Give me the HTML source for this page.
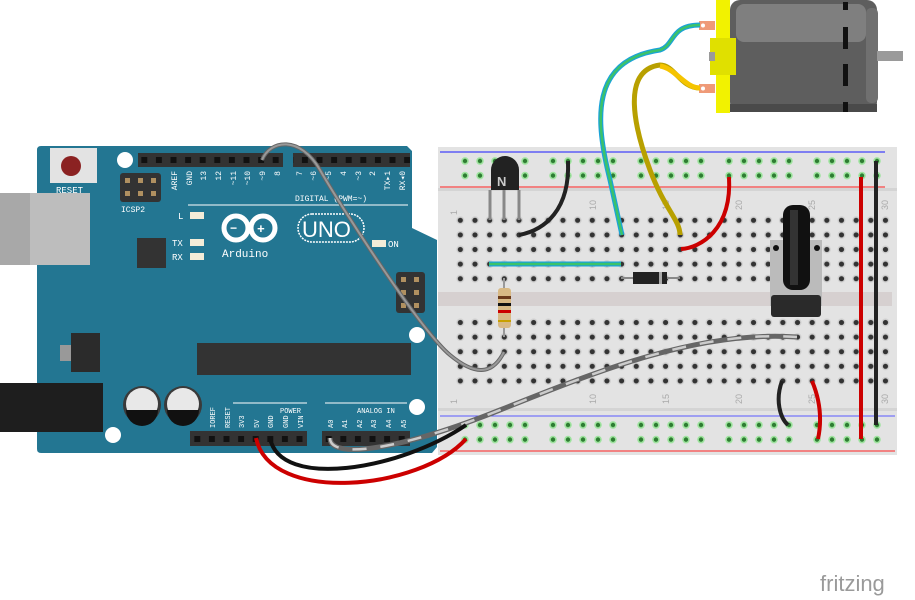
<!DOCTYPE html>
<html><head><meta charset="utf-8"><style>
html,body{margin:0;padding:0;background:#fff;width:915px;height:600px;overflow:hidden}
svg{display:block}
text{font-family:"Liberation Mono",monospace}
text.s, .s text{font-family:"Liberation Sans",sans-serif}
</style></head><body>
<svg width="915" height="600" viewBox="0 0 915 600" xmlns="http://www.w3.org/2000/svg">
<defs>
<pattern id="holes" x="453" y="213" width="14.66" height="14.6" patternUnits="userSpaceOnUse">
<circle cx="7.33" cy="7.3" r="4" fill="#cfcfcf"/><circle cx="7.33" cy="7.3" r="2.6" fill="#333"/>
</pattern>
<pattern id="rail" x="458" y="154" width="88" height="14.6" patternUnits="userSpaceOnUse">
<g fill="#2e7d32" stroke="#9ee39e" stroke-width="1.6">
<circle cx="7" cy="7" r="3"/><circle cx="22" cy="7" r="3"/><circle cx="37" cy="7" r="3"/><circle cx="52" cy="7" r="3"/><circle cx="67" cy="7" r="3"/></g>
</pattern>
<pattern id="rail2" x="458" y="418" width="88" height="14.6" patternUnits="userSpaceOnUse">
<g fill="#2e7d32" stroke="#9ee39e" stroke-width="1.6">
<circle cx="7" cy="7" r="3"/><circle cx="22" cy="7" r="3"/><circle cx="37" cy="7" r="3"/><circle cx="52" cy="7" r="3"/><circle cx="67" cy="7" r="3"/></g>
</pattern>
<pattern id="pins" x="137" y="153" width="14.6" height="14" patternUnits="userSpaceOnUse">
<rect x="4.3" y="4" width="6" height="6" fill="#111"/>
</pattern>
<pattern id="pins2" x="190" y="432" width="14.6" height="14" patternUnits="userSpaceOnUse">
<rect x="4.3" y="4" width="6" height="6" fill="#111"/>
</pattern>
</defs>

<!-- Motor -->
<rect x="730" y="0" width="147" height="112" rx="10" fill="#5e5e5e"/>
<rect x="736" y="4" width="130" height="38" rx="8" fill="#7f7f7f"/>
<rect x="866" y="8" width="12" height="95" rx="5" fill="#707070"/>
<rect x="877" y="51" width="26" height="10" fill="#9a9a9a"/>
<rect x="730" y="104" width="147" height="8" fill="#4a4a4a"/>
<g fill="#111"><rect x="843" y="2" width="5" height="8"/><rect x="843" y="27" width="5" height="22"/><rect x="843" y="64" width="5" height="22"/><rect x="843" y="102" width="5" height="10"/></g>
<rect x="716" y="0" width="14" height="113" fill="#f2f200"/>
<rect x="710" y="38" width="26" height="37" fill="#e0e000"/>
<rect x="709" y="52" width="6" height="9" fill="#9a9a9a"/>
<rect x="699" y="21" width="16" height="9" fill="#ef9a78"/><circle cx="703" cy="25.5" r="2" fill="#fff"/>
<rect x="699" y="84" width="16" height="9" fill="#ef9a78"/><circle cx="703" cy="88.5" r="2" fill="#fff"/>

<!-- Breadboard -->
<rect x="438" y="147" width="459" height="308" fill="#e3e3e3"/>
<rect x="438" y="188" width="459" height="3" fill="#d4d4d4"/>
<line x1="440" y1="152" x2="885" y2="152" stroke="#1a1aff" stroke-width="1"/>
<line x1="440" y1="187" x2="885" y2="187" stroke="#ff2020" stroke-width="1"/>
<rect x="438" y="292" width="454" height="14" fill="#d6d0d0"/>
<rect x="438" y="408" width="459" height="3" fill="#d4d4d4"/>
<line x1="440" y1="416" x2="895" y2="416" stroke="#5a5aff" stroke-width="1"/>
<line x1="440" y1="451" x2="895" y2="451" stroke="#ff2020" stroke-width="1"/>
<rect x="453" y="213" width="440" height="73" fill="url(#holes)"/>
<rect x="453" y="316" width="440" height="73" fill="url(#holes)"/>
<rect x="458" y="154" width="428" height="30" fill="url(#rail)"/>
<rect x="458" y="418" width="428" height="30" fill="url(#rail2)"/>
<g font-size="9" fill="#aaa" class="s">
<text x="457" y="215" transform="rotate(-90 457 215)">1</text>
<text x="596" y="210" transform="rotate(-90 596 210)">10</text>
<text x="669" y="210" transform="rotate(-90 669 210)">15</text>
<text x="742" y="210" transform="rotate(-90 742 210)">20</text>
<text x="815" y="210" transform="rotate(-90 815 210)">25</text>
<text x="888" y="210" transform="rotate(-90 888 210)">30</text>
<text x="457" y="404" transform="rotate(-90 457 404)">1</text>
<text x="596" y="404" transform="rotate(-90 596 404)">10</text>
<text x="669" y="404" transform="rotate(-90 669 404)">15</text>
<text x="742" y="404" transform="rotate(-90 742 404)">20</text>
<text x="815" y="404" transform="rotate(-90 815 404)">25</text>
<text x="888" y="404" transform="rotate(-90 888 404)">30</text>
</g>

<!-- Arduino -->
<path d="M37,150 Q37,146 41,146 L407,146 L412,151 L412,228 L437,240 L437,447 L432,453 L41,453 Q37,453 37,449 Z" fill="#237692"/>
<rect x="0" y="193" width="90" height="72" fill="#bdbdbd"/><rect x="0" y="193" width="30" height="72" fill="#a8a8a8"/>
<rect x="50" y="148" width="47" height="35" fill="#e3e3e3"/><circle cx="71" cy="166" r="10" fill="#8b2222"/>
<text x="56" y="193" font-size="9" fill="#fff">RESET</text>
<circle cx="125" cy="160" r="8" fill="#fff"/><circle cx="417" cy="335" r="8" fill="#fff"/><circle cx="417" cy="407" r="8" fill="#fff"/><circle cx="113" cy="435" r="8" fill="#fff"/>
<rect x="138" y="153" width="145" height="14" fill="#333"/><rect x="293" y="153" width="117" height="14" fill="#333"/>
<rect x="138" y="153" width="145" height="14" fill="url(#pins)"/><rect x="293" y="153" width="117" height="14" fill="url(#pins)"/>
<rect x="120" y="173" width="41" height="29" rx="3" fill="#333"/>
<g fill="#b09060"><rect x="125" y="178" width="5" height="5"/><rect x="138" y="178" width="5" height="5"/><rect x="151" y="178" width="5" height="5"/><rect x="125" y="191" width="5" height="5"/><rect x="138" y="191" width="5" height="5"/><rect x="151" y="191" width="5" height="5"/></g>
<text x="121" y="212" font-size="8" fill="#fff">ICSP2</text>
<g font-size="8" fill="#fff" text-anchor="end">
<text transform="translate(177,171) rotate(-90)">AREF</text>
<text transform="translate(192,171) rotate(-90)">GND</text>
<text transform="translate(206,171) rotate(-90)">13</text>
<text transform="translate(221,171) rotate(-90)">12</text>
<text transform="translate(236,171) rotate(-90)">~11</text>
<text transform="translate(250,171) rotate(-90)">~10</text>
<text transform="translate(265,171) rotate(-90)">~9</text>
<text transform="translate(280,171) rotate(-90)">8</text>
<text transform="translate(302,171) rotate(-90)">7</text>
<text transform="translate(316,171) rotate(-90)">~6</text>
<text transform="translate(331,171) rotate(-90)">~5</text>
<text transform="translate(346,171) rotate(-90)">4</text>
<text transform="translate(361,171) rotate(-90)">~3</text>
<text transform="translate(375,171) rotate(-90)">2</text>
<text transform="translate(390,171) rotate(-90)">TX▸1</text>
<text transform="translate(405,171) rotate(-90)">RX◂0</text>
</g>
<line x1="188" y1="205" x2="408" y2="205" stroke="#fff"/>
<text x="295" y="201" font-size="8" fill="#fff">DIGITAL (PWM=~)</text>
<rect x="137" y="238" width="29" height="30" fill="#333"/>
<g fill="#f3ecd8"><rect x="190" y="212" width="14" height="7"/><rect x="190" y="239" width="14" height="7"/><rect x="190" y="253" width="14" height="7"/><rect x="372" y="240" width="14" height="7"/></g>
<g font-size="9" fill="#fff"><text x="178" y="219">L</text><text x="172" y="246">TX</text><text x="172" y="260">RX</text><text x="388" y="247">ON</text></g>
<circle cx="236" cy="228" r="12" fill="none" stroke="#fff" stroke-width="5"/><circle cx="263" cy="228" r="12" fill="none" stroke="#fff" stroke-width="5"/>
<text x="230" y="232" font-size="12" fill="#fff" font-weight="bold">−</text><text x="257" y="233" font-size="13" fill="#fff" font-weight="bold">+</text>
<rect x="298" y="214" width="66" height="28" rx="14" fill="none" stroke="#fff" stroke-width="1.5" stroke-dasharray="2 1"/>
<text x="302" y="237" font-size="22" fill="#fff" class="s">UNO</text>
<text x="222" y="257" font-size="11" fill="#fff">Arduino</text>
<rect x="396" y="272" width="29" height="41" rx="3" fill="#333"/>
<g fill="#b09060"><rect x="401" y="277" width="5" height="5"/><rect x="414" y="277" width="5" height="5"/><rect x="401" y="290" width="5" height="5"/><rect x="414" y="290" width="5" height="5"/><rect x="401" y="303" width="5" height="5"/><rect x="414" y="303" width="5" height="5"/></g>
<rect x="197" y="343" width="214" height="32" fill="#333"/>
<rect x="71" y="333" width="29" height="39" fill="#2b2b2b"/><rect x="60" y="345" width="11" height="16" fill="#999"/>
<rect x="0" y="383" width="103" height="49" fill="#1e1e1e"/>
<circle cx="142" cy="405" r="19" fill="#3a3a3a"/><circle cx="142" cy="404" r="16" fill="#e8e8e8"/><path d="M126,410 h32 a16,16 0 0 1 -32,0z" fill="#111"/>
<circle cx="183" cy="405" r="19" fill="#3a3a3a"/><circle cx="183" cy="404" r="16" fill="#e8e8e8"/><path d="M167,410 h32 a16,16 0 0 1 -32,0z" fill="#111"/>
<rect x="190" y="431" width="117" height="15" fill="#333"/><rect x="322" y="431" width="88" height="15" fill="#333"/>
<rect x="190" y="432" width="117" height="14" fill="url(#pins2)"/><rect x="322" y="432" width="88" height="14" fill="url(#pins2)"/>
<line x1="233" y1="403" x2="307" y2="403" stroke="#fff"/><line x1="325" y1="403" x2="407" y2="403" stroke="#fff"/>
<text x="280" y="413" font-size="7" fill="#fff">POWER</text><text x="357" y="413" font-size="7" fill="#fff">ANALOG IN</text>
<g font-size="7" fill="#fff">
<text transform="translate(215,428) rotate(-90)">IOREF</text>
<text transform="translate(230,428) rotate(-90)">RESET</text>
<text transform="translate(244,428) rotate(-90)">3V3</text>
<text transform="translate(259,428) rotate(-90)">5V</text>
<text transform="translate(273,428) rotate(-90)">GND</text>
<text transform="translate(288,428) rotate(-90)">GND</text>
<text transform="translate(303,428) rotate(-90)">VIN</text>
<text transform="translate(333,428) rotate(-90)">A0</text>
<text transform="translate(347,428) rotate(-90)">A1</text>
<text transform="translate(362,428) rotate(-90)">A2</text>
<text transform="translate(376,428) rotate(-90)">A3</text>
<text transform="translate(391,428) rotate(-90)">A4</text>
<text transform="translate(406,428) rotate(-90)">A5</text>
</g>

<!-- Wires -->
<path d="M262,160 C270,140 300,135 320,170 S420,330 450,355 S495,370 504,352" fill="none" stroke="#666" stroke-width="4"/>
<path d="M262,160 C270,140 300,135 320,170 S420,330 450,355 S495,370 504,352" fill="none" stroke="#999" stroke-width="2"/>
<path d="M330,438 C330,460 400,450 500,410 S700,330 797,337" fill="none" stroke="#666" stroke-width="5"/>
<path d="M330,438 C330,460 400,450 500,410 S700,330 797,337" fill="none" stroke="#ccc" stroke-width="2.5" stroke-dasharray="14 14"/>
<path d="M270,438 C280,490 400,470 466,425" fill="none" stroke="#111" stroke-width="4"/>
<path d="M256,438 C270,505 420,490 466,439" fill="none" stroke="#c00" stroke-width="4"/>
<path d="M568,161 C570,210 545,230 519,235" fill="none" stroke="#222" stroke-width="4"/>
<path d="M729,177 C732,230 700,248 681,249" fill="none" stroke="#c00" stroke-width="4"/>
<line x1="861" y1="177" x2="861" y2="439" stroke="#c00" stroke-width="4"/>
<line x1="876" y1="161" x2="876" y2="425" stroke="#222" stroke-width="4"/>
<path d="M782,381 C775,400 780,418 788,425" fill="none" stroke="#222" stroke-width="4"/>
<path d="M812,381 C820,400 822,420 818,439" fill="none" stroke="#c00" stroke-width="4"/>
<path d="M700,25 C670,25 675,45 660,50 C590,60 595,120 610,180 L622,235" fill="none" stroke="#1aa3d8" stroke-width="5"/>
<path d="M700,25 C670,25 675,45 660,50 C590,60 595,120 610,180 L622,235" fill="none" stroke="#3cc26a" stroke-width="2.5"/>
<path d="M700,88 C680,88 675,65 660,65 C620,70 635,130 650,170 C665,210 680,220 680,235" fill="none" stroke="#b8a000" stroke-width="5"/>
<path d="M700,88 C685,88 675,68 660,66" fill="none" stroke="#f5c400" stroke-width="5"/>
<line x1="489" y1="264" x2="621" y2="264" stroke="#1aa3d8" stroke-width="5"/><line x1="489" y1="264" x2="621" y2="264" stroke="#3cc26a" stroke-width="2.5"/>
<!-- diode -->
<line x1="621" y1="278" x2="680" y2="278" stroke="#888" stroke-width="2"/>
<rect x="633" y="272" width="34" height="12" fill="#222"/><rect x="659" y="272" width="3" height="12" fill="#aaa"/>
<!-- resistor -->
<line x1="504" y1="278" x2="504" y2="337" stroke="#999" stroke-width="2"/>
<rect x="498" y="288" width="13" height="40" rx="3" fill="#d8b984"/>
<rect x="498" y="296" width="13" height="3" fill="#6b3a1a"/><rect x="498" y="303" width="13" height="3" fill="#111"/><rect x="498" y="310" width="13" height="3" fill="#c00"/><rect x="498" y="320" width="13" height="2" fill="#c8a000"/>
<!-- transistor -->
<g stroke="#888" stroke-width="3"><line x1="490" y1="190" x2="490" y2="220"/><line x1="504" y1="190" x2="504" y2="220"/><line x1="519" y1="190" x2="519" y2="220"/></g>
<path d="M491,170 a14,14 0 0 1 28,0 v20 h-28z" fill="#222"/>
<text x="497" y="186" font-size="13" font-weight="bold" fill="#ccc" class="s">N</text>
<!-- potentiometer -->
<rect x="770" y="240" width="52" height="66" fill="#bbb"/>
<rect x="771" y="295" width="50" height="22" rx="3" fill="#2a2a2a"/>
<circle cx="776" cy="248" r="3" fill="#111"/><circle cx="817" cy="248" r="3" fill="#111"/>
<rect x="783" y="205" width="27" height="85" rx="10" fill="#111"/><rect x="790" y="210" width="8" height="75" fill="#333"/>
<!-- fritzing -->
<text x="820" y="591" font-size="22" fill="#9a9a9a" class="s">fritzing</text>
</svg>
</body></html>
